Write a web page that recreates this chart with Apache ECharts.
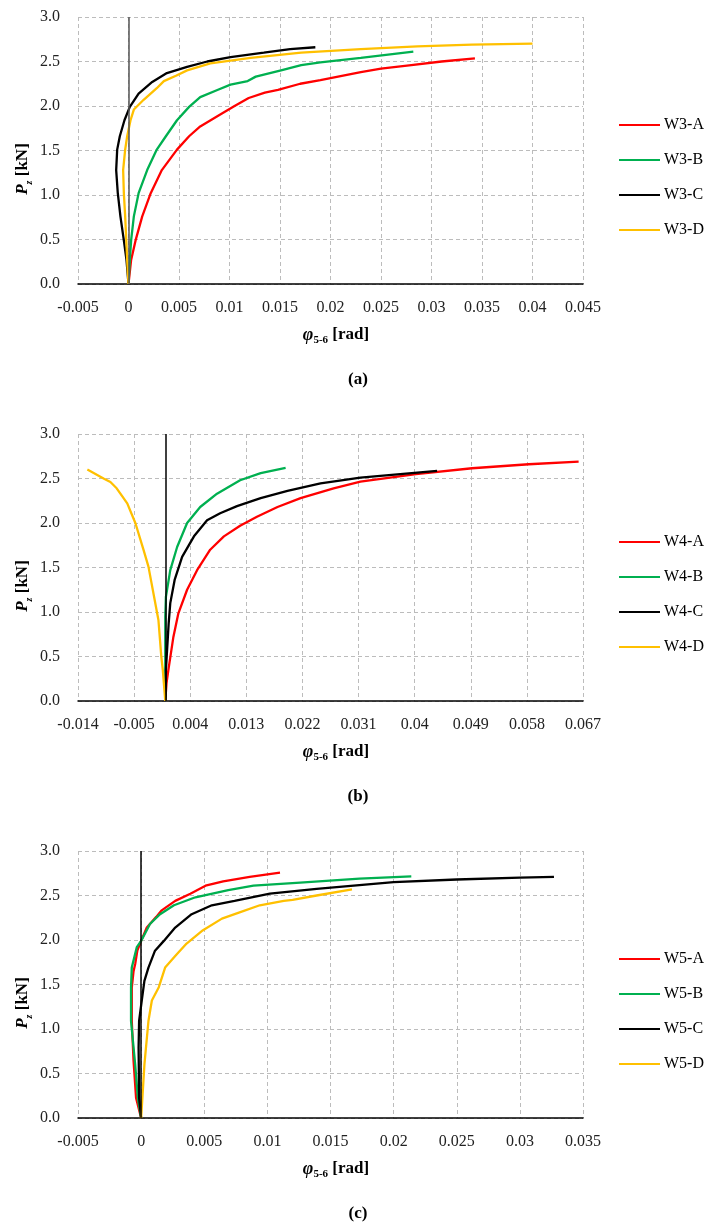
<!DOCTYPE html>
<html>
<head>
<meta charset="utf-8">
<script src="https://cdn.jsdelivr.net/npm/echarts@6/dist/echarts.min.js"></script>
<style>
  html, body { margin: 0; padding: 0; background: #fff; }
  #chart { width: 715px; height: 1224px; }
</style>
</head>
<body>
<div id="chart"></div>
<script>
// P_z vs phi_5-6 curves, three panels (W3, W4, W5).

const yTicks = [0, 0.5, 1, 1.5, 2, 2.5, 3];
const xTicksA = [-0.005, 0, 0.005, 0.01, 0.015, 0.02, 0.025, 0.03, 0.035, 0.04, 0.045];
const xTicksB = [-0.014, -0.005, 0.004, 0.013, 0.022, 0.031, 0.04, 0.049, 0.058, 0.067];
const xTicksC = [-0.005, 0, 0.005, 0.01, 0.015, 0.02, 0.025, 0.03, 0.035];

// panel (a)
const w3a = [[0, 0], [0.00026, 0.27], [0.0007, 0.49], [0.00136, 0.76], [0.0022, 1.02], [0.0033, 1.28],
  [0.0048, 1.51], [0.006, 1.66], [0.0071, 1.77], [0.009, 1.9], [0.0105, 2.0], [0.0119, 2.09],
  [0.0135, 2.15], [0.0148, 2.18], [0.017, 2.25], [0.019, 2.29], [0.023, 2.38], [0.025, 2.42],
  [0.028, 2.46], [0.031, 2.5], [0.0343, 2.535]];
const w3b = [[0, 0], [0.00013, 0.27], [0.00026, 0.49], [0.00053, 0.76], [0.001, 1.02], [0.00185, 1.28],
  [0.0028, 1.51], [0.0037, 1.66], [0.0048, 1.84], [0.006, 1.99], [0.0071, 2.1], [0.0088, 2.18],
  [0.0101, 2.24], [0.0118, 2.28], [0.0126, 2.33], [0.0151, 2.4], [0.0171, 2.46], [0.019, 2.49],
  [0.023, 2.54], [0.0282, 2.61]];
const w3c = [[0, 0], [-0.0002, 0.27], [-0.00046, 0.49], [-0.0008, 0.76], [-0.00106, 1.02], [-0.00122, 1.28],
  [-0.00112, 1.51], [-0.00086, 1.66], [-0.0004, 1.84], [0.00013, 1.99], [0.001, 2.14], [0.00235, 2.27],
  [0.0038, 2.37], [0.0058, 2.44], [0.0078, 2.5], [0.0101, 2.55], [0.0134, 2.6], [0.016, 2.64], [0.0185, 2.66]];
const w3d = [[0, 0], [-0.00013, 0.27], [-0.00033, 0.76], [-0.00046, 1.02], [-0.00053, 1.28], [-0.00033, 1.51],
  [-0.00013, 1.66], [0.0002, 1.84], [0.00053, 1.96], [0.0015, 2.07], [0.0028, 2.2], [0.0035, 2.28],
  [0.0047, 2.34], [0.0058, 2.4], [0.0081, 2.48], [0.0121, 2.54], [0.0171, 2.6], [0.023, 2.64],
  [0.0286, 2.67], [0.034, 2.69], [0.04, 2.7]];

// panel (b)
const w4a = [[0, 0], [0.0002, 0.2], [0.0005, 0.35], [0.0013, 0.72], [0.0021, 0.985], [0.0035, 1.25],
  [0.0051, 1.47], [0.0072, 1.7], [0.0094, 1.85], [0.012, 1.97], [0.0147, 2.07], [0.018, 2.18],
  [0.0217, 2.28], [0.027, 2.39], [0.0313, 2.465], [0.0402, 2.55], [0.0492, 2.615], [0.0583, 2.66],
  [0.0663, 2.69]];
const w4b = [[0, 0], [0, 0.35], [0, 0.95], [0.0001, 1.17], [0.0008, 1.47], [0.0019, 1.73], [0.0035, 2.0],
  [0.0056, 2.18], [0.0083, 2.33], [0.012, 2.48], [0.0153, 2.56], [0.0193, 2.62]];
const w4c = [[0, 0], [0.0001, 0.35], [0.00054, 0.87], [0.0008, 1.1], [0.0015, 1.36], [0.0027, 1.62],
  [0.0046, 1.85], [0.0067, 2.03], [0.0088, 2.11], [0.0115, 2.19], [0.0153, 2.28], [0.0196, 2.36],
  [0.0249, 2.445], [0.0313, 2.51], [0.0436, 2.585]];
const w4d = [[0, 0], [-0.0004, 0.35], [-0.00064, 0.5], [-0.0011, 0.91], [-0.0027, 1.51], [-0.0035, 1.7],
  [-0.0048, 2.0], [-0.0061, 2.22], [-0.0072, 2.33], [-0.0078, 2.39], [-0.0088, 2.46], [-0.0099, 2.5],
  [-0.0125, 2.6]];

// panel (c)
const w5a = [[0, 0], [-0.0004, 0.225], [-0.0006, 0.64], [-0.00074, 1.09], [-0.00074, 1.466], [-0.0006, 1.65],
  [-0.00047, 1.73], [-0.0003, 1.88], [0, 1.99], [0.00045, 2.14], [0.0012, 2.26], [0.0016, 2.33],
  [0.0027, 2.44], [0.0039, 2.52], [0.0051, 2.61], [0.0065, 2.66], [0.0086, 2.71], [0.011, 2.756]];
const w5b = [[0, 0], [-0.00026, 0.225], [-0.00047, 0.6], [-0.0008, 1.09], [-0.0008, 1.47], [-0.00074, 1.69],
  [-0.00034, 1.92], [0, 1.99], [0.0007, 2.18], [0.0015, 2.29], [0.0026, 2.39], [0.0043, 2.48],
  [0.0069, 2.56], [0.0089, 2.61], [0.0126, 2.645], [0.0173, 2.69], [0.0214, 2.715]];
const w5c = [[0, 0], [-0.00016, 0.225], [-0.0002, 0.79], [-0.00016, 1.09], [0.00005, 1.32], [0.00026, 1.54],
  [0.00058, 1.69], [0.0011, 1.88], [0.0018, 1.99], [0.0027, 2.14], [0.004, 2.29], [0.0056, 2.39],
  [0.0074, 2.44], [0.0102, 2.52], [0.0139, 2.575], [0.02, 2.65], [0.025, 2.68], [0.03, 2.7], [0.0327, 2.71]];
const w5d = [[0, 0], [0.0001, 0.225], [0.00026, 0.6], [0.00058, 1.09], [0.00085, 1.32], [0.0014, 1.47],
  [0.0019, 1.69], [0.0027, 1.82], [0.0036, 1.96], [0.0049, 2.11], [0.0064, 2.24], [0.0078, 2.31],
  [0.0094, 2.39], [0.0113, 2.44], [0.012, 2.45], [0.0139, 2.5], [0.0167, 2.57]];

const COLORS = ['#ff0000', '#00b050', '#000000', '#ffc000'];
const FONT = '"Liberation Serif", "Times New Roman", serif';
const GRID_LINE = { color: '#bcbcbc', type: [4, 3], width: 1 };

const panels = [
  { tag: '(a)', top: 17, xTicks: xTicksA, zeroColor: '#555555', names: ['W3-A', 'W3-B', 'W3-C', 'W3-D'], data: [w3a, w3b, w3c, w3d] },
  { tag: '(b)', top: 434, xTicks: xTicksB, zeroColor: '#000000', names: ['W4-A', 'W4-B', 'W4-C', 'W4-D'], data: [w4a, w4b, w4c, w4d] },
  { tag: '(c)', top: 851, xTicks: xTicksC, zeroColor: '#000000', names: ['W5-A', 'W5-B', 'W5-C', 'W5-D'], data: [w5a, w5b, w5c, w5d] },
];

const GRID_LEFT = 78, GRID_W = 505, GRID_H = 267;

const grid = [], xAxis = [], yAxis = [], series = [], legend = [], graphic = [];

panels.forEach((p, i) => {
  const bottom = p.top + GRID_H;
  grid.push({ left: GRID_LEFT, top: p.top, width: GRID_W, height: GRID_H });

  xAxis.push({
    gridIndex: i, type: 'value',
    min: p.xTicks[0], max: p.xTicks[p.xTicks.length - 1],
    interval: +(p.xTicks[1] - p.xTicks[0]).toFixed(6),
    axisLine: { onZero: false, lineStyle: { color: '#000', width: 1.5 } },
    axisTick: { show: false },
    axisLabel: {
      margin: 16, color: '#222', fontFamily: FONT, fontSize: 16,
      formatter: (v) => String(+v.toFixed(3)),
    },
    splitLine: { show: true, lineStyle: GRID_LINE },
  });

  yAxis.push({
    gridIndex: i, type: 'value',
    min: yTicks[0], max: yTicks[yTicks.length - 1], interval: yTicks[1] - yTicks[0],
    axisLine: { show: false },
    axisTick: { show: false },
    axisLabel: { margin: 18, color: '#222', fontFamily: FONT, fontSize: 16, formatter: (v) => v.toFixed(1) },
    splitLine: { show: true, lineStyle: GRID_LINE },
  });

  // vertical reference line at phi = 0
  series.push({
    type: 'line', xAxisIndex: i, yAxisIndex: i, data: [], z: 1, silent: true,
    markLine: {
      symbol: 'none', silent: true, label: { show: false },
      lineStyle: { color: p.zeroColor, width: 1.5, type: 'solid' },
      data: [{ xAxis: 0 }],
    },
  });

  p.names.forEach((name, k) => {
    series.push({
      name, type: 'line', xAxisIndex: i, yAxisIndex: i, data: p.data[k],
      symbol: 'none', z: 3,
      color: COLORS[k],
      lineStyle: { color: COLORS[k], width: 2.3 },
    });
  });

  legend.push({
    data: p.names, orient: 'vertical', left: 614, top: p.top + 95,
    itemWidth: 41, itemHeight: 16, itemGap: 19,
    icon: 'path://M0,7 L41,7 L41,9 L0,9 Z',
    itemStyle: { borderWidth: 0 },
    textStyle: { fontFamily: FONT, fontSize: 16, color: '#000', lineHeight: 16, padding: [0, 0, 0, -1] },
    selectedMode: false,
  });

  // y title  P_z [kN]
  graphic.push({
    type: 'text', x: 23, y: p.top + 152, rotation: Math.PI / 2,
    style: {
      text: '{p|P}{s|z}{b| [kN]}', align: 'center', verticalAlign: 'middle',
      rich: {
        p: { fontFamily: FONT, fontSize: 17, fontWeight: 'bold', fontStyle: 'italic', lineHeight: 22, fill: '#000' },
        s: { fontFamily: FONT, fontSize: 10, fontStyle: 'italic', fontWeight: 'bold', lineHeight: 22, verticalAlign: 'bottom', fill: '#000' },
        b: { fontFamily: FONT, fontSize: 17, fontWeight: 'bold', lineHeight: 22, fill: '#000' },
      },
    },
  });

  // x title  phi_5-6 [rad]
  graphic.push({
    type: 'text', x: 336, y: bottom + 51,
    style: {
      text: '{p|φ}{s|5-6}{b| [rad]}', align: 'center', verticalAlign: 'middle',
      rich: {
        p: { fontFamily: FONT, fontSize: 18, fontWeight: 'bold', fontStyle: 'italic', lineHeight: 22, fill: '#000' },
        s: { fontFamily: FONT, fontSize: 11, fontWeight: 'bold', lineHeight: 22, verticalAlign: 'bottom', fill: '#000' },
        b: { fontFamily: FONT, fontSize: 17, fontWeight: 'bold', lineHeight: 22, fill: '#000' },
      },
    },
  });

  // panel caption
  graphic.push({
    type: 'text', x: 358, y: bottom + 96,
    style: { text: p.tag, align: 'center', verticalAlign: 'middle', font: 'bold 17px ' + FONT, fill: '#000' },
  });
});

const chart = echarts.init(document.getElementById('chart'));
chart.setOption({
  animation: false,
  backgroundColor: '#fff',
  grid, xAxis, yAxis, series, legend, graphic,
});
</script>
</body>
</html>
